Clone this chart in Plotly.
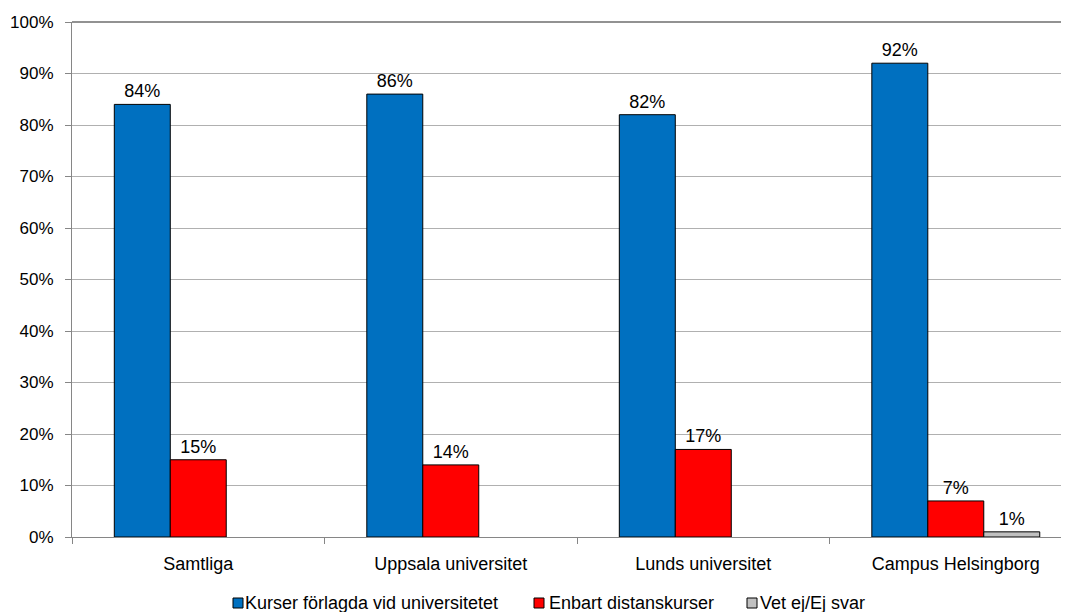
import plotly.graph_objects as go

categories = ["Samtliga", "Uppsala universitet", "Lunds universitet", "Campus Helsingborg"]
series_names = ["Kurser förlagda vid universitetet", "Enbart distanskurser", "Vet ej/Ej svar"]
kurser = [84, 86, 82, 92]
distans = [15, 14, 17, 7]
vetej = [0, 0, 0, 1]
colors = ["#0070C0", "#FF0000", "#C0C0C0"]
y_ticks = [0, 10, 20, 30, 40, 50, 60, 70, 80, 90, 100]

FONT = "Liberation Sans, Arial, sans-serif"
FS = 18

# page offset (body margin) compensation
L, T = 64, 14
W, H = 1069, 612
B = 83
plot_w = W - L
plot_h = H - T - B

fig = go.Figure()
for name, vals, col in zip(series_names, [kurser, distans, vetej], colors):
    yv = [v if v > 0 else None for v in vals]
    labels = [f"{v}%" if v > 0 else "" for v in vals]
    fig.add_trace(go.Bar(
        x=categories, y=yv, name=name,
        marker=dict(color=col, line=dict(color="#000000", width=1)),
        text=labels, textposition="outside", texttemplate="%{text}",
        textfont=dict(family=FONT, size=FS, color="#000000"),
        cliponaxis=False, showlegend=False,
    ))

fig.update_layout(
    width=W, height=H,
    margin=dict(l=L, r=0, t=T, b=B),
    barmode="group", bargap=0.335, bargroupgap=0,
    plot_bgcolor="#FFFFFF", paper_bgcolor="#FFFFFF",
    font=dict(family=FONT, size=FS, color="#000000"),
    showlegend=False,
    xaxis=dict(
        type="category", range=[-0.5, 3.48],
        showline=True, linecolor="#868686", linewidth=1,
        ticks="outside", tickson="boundaries", ticklen=6, tickcolor="#868686",
        ticklabelstandoff=10,
        showgrid=False, tickfont=dict(family=FONT, size=FS, color="#000000"),
    ),
    yaxis=dict(
        range=[0, 100], tickvals=y_ticks, ticktext=[f"{v}%" for v in y_ticks],
        showline=True, linecolor="#868686", linewidth=1,
        ticks="outside", ticklen=6, tickcolor="#868686",
        ticklabelstandoff=8,
        showgrid=True, gridcolor="#B0B0B0", gridwidth=1,
        zeroline=False, tickfont=dict(family=FONT, size=17, color="#000000"),
    ),
)
fig.add_shape(type="line", xref="paper", yref="paper", x0=0, x1=1, y0=1, y1=1,
              line=dict(color="#6E6E6E", width=1.5))

# custom legend (page pixel positions -> paper coords)
def px_x(px):
    return (px - 72) / plot_w

def px_y(py):
    return (537 - py) / plot_h

legend_marker_x = [233, 534, 747]
legend_text_x = [243, 547, 758]
ly = 603
for name, col, mx, tx in zip(series_names, colors, legend_marker_x, legend_text_x):
    fig.add_shape(type="rect", xref="paper", yref="paper",
                  x0=px_x(mx), x1=px_x(mx + 10), y0=px_y(ly + 5), y1=px_y(ly - 5),
                  fillcolor=col, line=dict(color="#000000", width=1))
    fig.add_annotation(xref="paper", yref="paper", x=px_x(tx), y=px_y(ly),
                       xanchor="left", yanchor="middle", showarrow=False,
                       text=name, font=dict(family=FONT, size=FS, color="#000000"))

fig.write_html("out.html")
